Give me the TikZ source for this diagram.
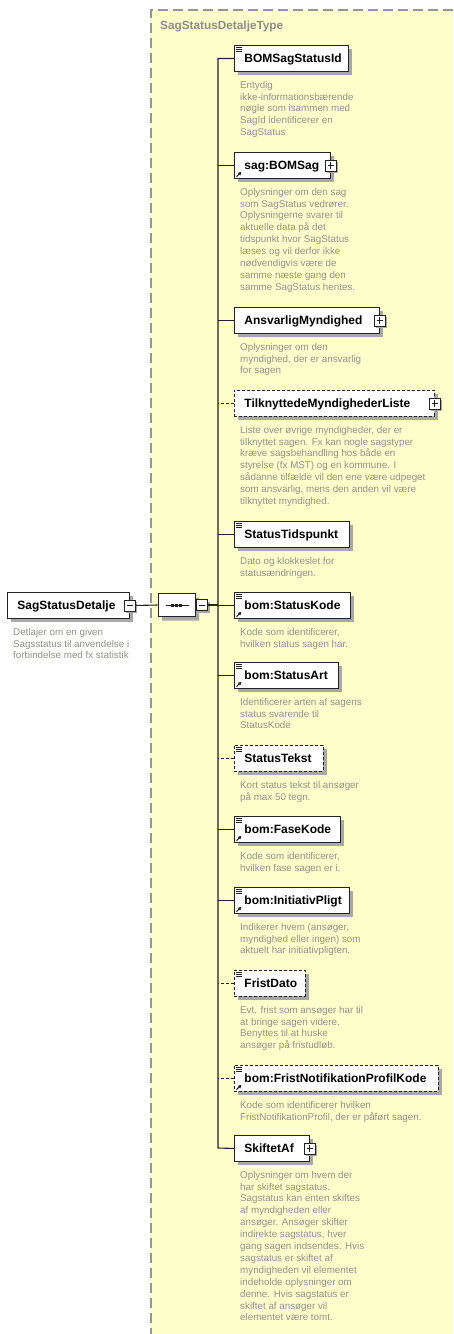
\documentclass[tikz,border=0pt]{standalone}
\usepackage{fontspec}
\setmainfont{Liberation Sans}
\usetikzlibrary{shapes.misc,shadows,arrows.meta}
\definecolor{bgyellow}{RGB}{255,255,204}
\definecolor{desccol}{RGB}{145,145,138}
\definecolor{linecol}{RGB}{35,35,35}
\definecolor{shadowcol}{RGB}{168,168,168}
\definecolor{bordercol}{RGB}{150,150,150}
\definecolor{titlecol}{RGB}{140,140,140}
\newcommand\xlab{\fontsize{12}{14}\selectfont\bfseries\lefthyphenmin=62 }
\newcommand\xdsc{\fontsize{9.8}{11.9}\selectfont\lefthyphenmin=62 }
\newcommand\xsdeq[1]{\foreach \d in {2.3,4.1,5.9}{\draw[line width=0.7pt,linecol] ([shift={(2,\d)}]#1.north west) -- ++(6,0);}}
\newcommand\xsdref[1]{\draw[line width=1.1pt,linecol,-{Latex[length=3.5pt,width=4pt]}] ([shift={(2.5,-2.2)}]#1.south west) -- ++(5,-5);}
\begin{document}
\begin{tikzpicture}[x=1pt,y=-1pt,
  el/.style={draw=linecol, line width=0.9pt, fill=white, anchor=north west,
    minimum height=26pt, inner xsep=10pt, inner ysep=0pt, text height=10pt, text depth=2pt,
    align=left, font=\xlab,
    general shadow={fill=shadowcol, shadow xshift=4pt, shadow yshift=-4pt}},
  opt/.style={dash pattern=on 3pt off 2pt},
  desc/.style={anchor=north west, inner sep=0pt, align=left, font=\xdsc, text=desccol},
  conn/.style={draw=linecol, line width=1.1pt},
  pm/.style={draw=linecol, fill=white, minimum size=11pt, inner sep=0pt, line width=0.8pt,
    general shadow={fill=shadowcol, shadow xshift=2pt, shadow yshift=-2pt}},
  plusbox/.style={pm, path picture={\draw[line width=0.9pt,linecol]
      ([xshift=2.2pt]path picture bounding box.west) -- ([xshift=-2.2pt]path picture bounding box.east)
      ([yshift=-2.2pt]path picture bounding box.north) -- ([yshift=2.2pt]path picture bounding box.south);}},
  minusbox/.style={pm, path picture={\draw[line width=0.9pt,linecol]
      ([xshift=2.2pt]path picture bounding box.west) -- ([xshift=-2.2pt]path picture bounding box.east);}},
  seqshape/.style={draw=linecol, line width=0.9pt, fill=white, chamfered rectangle,
    chamfered rectangle xsep=5pt, chamfered rectangle ysep=5pt,
    minimum width=37pt, minimum height=23pt, inner sep=0pt,
    general shadow={fill=shadowcol, shadow xshift=4pt, shadow yshift=-4pt}}
]
\useasboundingbox (0,0) rectangle (453,1334);
\fill[white] (0,0) rectangle (453,1334);
% complex type region
\fill[bgyellow] (151,10) rectangle (453,1334);
\draw[bordercol, line width=1.3pt, dash pattern=on 10pt off 5pt] (453,10) -- (151,10) -- (151,1334);
\node[anchor=base west, inner sep=0pt, font=\fontsize{11.8}{14}\selectfont\bfseries, text=titlecol] (ttl) at (160,29) {SagStatusDetaljeType};

% main element
\node[el, text width=102pt] (main) at (7,592) {SagStatusDetalje};
\node[minusbox] (mainm) at (main.east) {};
\node[desc] (maind) at (13,627.8) {Detlajer om en given\\Sagsstatus til anvendelse i\\forbindelse med fx statistik};

% sequence compositor
\node[seqshape] (seq) at (176.5,605) {};
\draw[line width=1pt,linecol] ([xshift=-11pt]seq.center) -- ([xshift=12pt]seq.center);
\foreach \dx in {-4,0,4}{\fill[linecol] ([xshift=\dx pt]seq.center) +(-1.5,-1.5) rectangle +(1.5,1.5);}
\node[minusbox] (seqm) at (202,605) {};
\draw[conn] (mainm.east) -- (seq.west);

% children
\node[el, text width=94pt] (n1) at (234,45) {BOMSagStatusId};
\node[el, text width=76pt] (n2) at (234,152) {sag:BOMSag};
\node[el, text width=125pt] (n3) at (234,307) {AnsvarligMyndighed};
\node[el, opt, text width=180pt] (n4) at (234,390) {TilknyttedeMyndighederListe};
\node[el, text width=95pt] (n5) at (234,521) {StatusTidspunkt};
\node[el, text width=96pt] (n6) at (234,592) {bom:StatusKode};
\node[el, text width=84pt] (n7) at (234,662) {bom:StatusArt};
\node[el, opt, text width=69pt] (n8) at (234,745) {StatusTekst};
\node[el, text width=86pt] (n9) at (234,816) {bom:FaseKode};
\node[el, text width=95pt] (n10) at (234,887) {bom:InitiativPligt};
\node[el, opt, text width=51pt] (n11) at (234,970) {FristDato};
\node[el, opt, text width=184pt] (n12) at (234,1065) {bom:FristNotifikationProfilKode};
\node[el, text width=55pt] (n13) at (234,1135) {SkiftetAf};

\node[plusbox] (n2p) at (n2.east) {};
\node[plusbox] (n3p) at (n3.east) {};
\node[plusbox] (n4p) at (n4.east) {};
\node[plusbox] (n13p) at (n13.east) {};

\xsdeq{n1}\xsdeq{n5}\xsdeq{n6}\xsdeq{n7}\xsdeq{n8}\xsdeq{n9}\xsdeq{n10}\xsdeq{n11}\xsdeq{n12}
\xsdref{n2}\xsdref{n6}\xsdref{n7}\xsdref{n9}\xsdref{n10}\xsdref{n12}

% bus
\coordinate (busB) at (218,1148);
\draw[conn] (n1.west) -| (busB) -- (n13.west);
\draw[conn] (n2.west) -- (n2.west -| busB);
\draw[conn] (n3.west) -- (n3.west -| busB);
\draw[conn, opt] (n4.west) -- (n4.west -| busB);
\draw[conn] (n5.west) -- (n5.west -| busB);
\draw[conn] (n6.west) -- (n6.west -| busB);
\draw[conn] (n7.west) -- (n7.west -| busB);
\draw[conn, opt] (n8.west) -- (n8.west -| busB);
\draw[conn] (n9.west) -- (n9.west -| busB);
\draw[conn] (n10.west) -- (n10.west -| busB);
\draw[conn, opt] (n11.west) -- (n11.west -| busB);
\draw[conn, opt] (n12.west) -- (n12.west -| busB);
\draw[conn] (seqm.east) -- (seqm.east -| busB);

% descriptions
\node[desc] (d1) at (240,80.8) {Entydig\\ikke-informationsbærende\\nøgle som isammen med\\SagId identificerer en\\SagStatus};
\node[desc] (d2) at (240,187.8) {Oplysninger om den sag\\som SagStatus vedrører.\\Oplysningerne svarer til\\aktuelle data på det\\tidspunkt hvor SagStatus\\læses og vil derfor ikke\\nødvendigvis være de\\samme næste gang den\\samme SagStatus hentes.};
\node[desc] (d3) at (240,342.8) {Oplysninger om den\\myndighed, der er ansvarlig\\for sagen};
\node[desc] (d4) at (240,425.8) {Liste over øvrige myndigheder, der er\\tilknyttet sagen. Fx kan nogle sagstyper\\kræve sagsbehandling hos både en\\styrelse (fx MST) og en kommune. I\\sådanne tilfælde vil den ene være udpeget\\som ansvarlig, mens den anden vil være\\tilknyttet myndighed.};
\node[desc] (d5) at (240,556.8) {Dato og klokkeslet for\\statusændringen.};
\node[desc] (d6) at (240,627.8) {Kode som identificerer,\\hvilken status sagen har.};
\node[desc] (d7) at (240,697.8) {Identificerer arten af sagens\\status svarende til\\StatusKode};
\node[desc] (d8) at (240,780.8) {Kort status tekst til ansøger\\på max 50 tegn.};
\node[desc] (d9) at (240,851.8) {Kode som identificerer,\\hvilken fase sagen er i.};
\node[desc] (d10) at (240,922.8) {Indikerer hvem (ansøger,\\myndighed eller ingen) som\\aktuelt har initiativpligten.};
\node[desc] (d11) at (240,1005.8) {Evt. frist som ansøger har til\\at bringe sagen videre.\\Benyttes til at huske\\ansøger på fristudløb.};
\node[desc] (d12) at (240,1100.8) {Kode som identificerer hvilken\\FristNotifikationProfil, der er påført sagen.};
\node[desc] (d13) at (240,1170.8) {Oplysninger om hvem der\\har skiftet sagstatus.\\Sagstatus kan enten skiftes\\af myndigheden eller\\ansøger. Ansøger skifter\\indirekte sagstatus, hver\\gang sagen indsendes. Hvis\\sagstatus er skiftet af\\myndigheden vil elementet\\indeholde oplysninger om\\denne. Hvis sagstatus er\\skiftet af ansøger vil\\elementet være tomt.};
\end{tikzpicture}
\end{document}
